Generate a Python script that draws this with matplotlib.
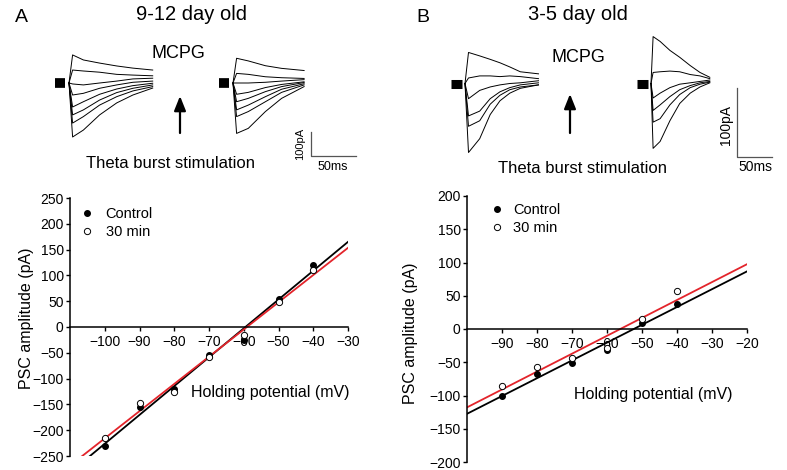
import numpy as np
import matplotlib.pyplot as plt

plt.rcParams['font.family'] = ['Liberation Sans', 'DejaVu Sans']

# I-V data, PSC amplitude (pA) vs holding potential (mV)
a_mv = [-100, -90, -80, -70, -60, -50, -40]
a_control = [-230, -155, -120, -55, -25, 55, 120]
a_30min = [-215, -148, -125, -58, -15, 48, 110]

b_mv = [-90, -80, -70, -60, -50, -40]
b_control = [-100, -67, -51, -32, 9, 38]
b_30min = [-85, -57, -44, -28, 15, 57]

a_xticks = [-100, -90, -80, -70, -60, -50, -40, -30]
a_yticks = [-250, -200, -150, -100, -50, 0, 50, 100, 150, 200, 250]
b_xticks = [-90, -80, -70, -60, -50, -40, -30, -20]
b_yticks = [-200, -150, -100, -50, 0, 50, 100, 150, 200]

# example current traces (time ms, current pA)
a1_t = [0, 4, 16, 34, 53, 71, 93]
a1_traces = [
    [0, 117, 96, 83, 71, 62, 54],
    [0, 54, 50, 45, 36, 33, 30],
    [0, -4, -8, 0, 8, 17, 20],
    [0, -50, -43, -22, -8, 3, 8],
    [0, -100, -78, -47, -25, -11, -1],
    [0, -133, -112, -71, -40, -22, -8],
    [0, -167, -140, -92, -57, -33, -15],
    [0, -225, -196, -133, -83, -50, -21],
]
a2_t = [0, 4, 17, 36, 54, 79]
a2_traces = [
    [0, 103, 92, 72, 61, 52],
    [0, 40, 36, 26, 22, 19],
    [0, 0, 0, 3, 8, 14],
    [0, -47, -39, -19, -6, 5],
    [0, -78, -64, -36, -15, 2],
    [0, -112, -92, -57, -26, -3],
    [0, -140, -119, -78, -39, -8],
    [0, -210, -189, -119, -64, -15],
]
b1_t = [0, 5, 21, 36, 50, 64, 79, 105]
b1_traces = [
    [0, 45, 40, 35, 30, 24, 17, 14],
    [0, 8, 11, 11, 10, 11, 10, 7],
    [0, -22, -10, -5, -2, 0, 1, 4],
    [0, -47, -40, -22, -12, -6, -2, 1],
    [0, -62, -54, -30, -17, -9, -5, -2],
    [0, -100, -80, -45, -25, -14, -7, -2],
]
b2_t = [0, 3, 13, 27, 41, 56, 70, 84]
b2_traces = [
    [0, 68, 61, 48, 38, 26, 16, 9],
    [0, 16, 17, 18, 17, 13, 11, 7],
    [0, -21, -14, -6, -1, 1, 3, 5],
    [0, -39, -31, -19, -9, -3, 1, 3],
    [0, -56, -51, -31, -16, -6, -1, 2],
    [0, -94, -84, -54, -29, -14, -5, 1],
]

W, H = 787, 470
fig = plt.figure(figsize=(W / 100, H / 100), dpi=100)
RED = '#e3242b'
GREY = '#555555'


def box(left, top, right, bottom):
    return fig.add_axes([left / W, 1 - bottom / H, (right - left) / W, (bottom - top) / H])


def ftext(x, y, s, **kw):
    kw.setdefault('ha', 'center')
    kw.setdefault('va', 'center')
    fig.text(x / W, 1 - y / H, s, **kw)


def trace_axes(left, top, right, bottom, x0, base, ppms, pppa):
    ax = box(left, top, right, bottom)
    ax.set_xlim((left - x0) / ppms, (right - x0) / ppms)
    ax.set_ylim(-(bottom - base) / pppa, (base - top) / pppa)
    ax.axis('off')
    return ax


def draw_group(ax, t, traces, offset, block, block_lw):
    tt = np.array(t) + offset
    for tr in traces:
        ax.plot(tt, tr, color='black', lw=0.7)
    ax.plot(np.array(block) + offset, [0, 0], color='black', lw=block_lw,
            solid_capstyle='butt')


def arrow(x, y_tip, y_tail):
    fig.add_artist(plt.Annotation('', xy=(x / W, 1 - y_tip / H), xytext=(x / W, 1 - y_tail / H),
                                  xycoords='figure fraction',
                                  arrowprops=dict(arrowstyle='-|>,head_length=0.55,head_width=0.22',
                                                  lw=1.6, color='black', mutation_scale=16,
                                                  shrinkA=0, shrinkB=0)))


def scalebar(ax, x0, y0):
    ax.plot([x0, x0, x0 + 50], [y0 + 100, y0, y0], color=GREY, lw=0.9)


# ---- panel A traces ----
ta = trace_axes(40, 40, 380, 175, x0=69, base=83, ppms=0.9, pppa=0.24)
draw_group(ta, a1_t, a1_traces, 0, [-16, -5], 7)
draw_group(ta, a2_t, a2_traces, (233 - 69) / 0.9, [-16, -5], 7)
scalebar(ta, (311 - 69) / 0.9, (83 - 156) / 0.24)

# ---- panel B traces ----
tb = trace_axes(420, 25, 787, 180, x0=465, base=83.5, ppms=0.7, pppa=0.69)
draw_group(tb, b1_t, b1_traces, 0, [-20, -4], 6.5)
draw_group(tb, b2_t, b2_traces, (651 - 465) / 0.7, [-20, -4], 6.5)
scalebar(tb, (737 - 465) / 0.7, (83.5 - 157) / 0.69)

# titles / labels on top
ftext(15, 17, 'A', ha='left', fontsize=14)
ftext(191, 14, '9-12 day old', fontsize=14.5)
ftext(178, 53, 'MCPG', fontsize=13)
ftext(171, 164, 'Theta burst stimulation', fontsize=12)
ftext(300, 144, '100pA', fontsize=8, rotation=90)
ftext(333, 167, '50ms', fontsize=9)
arrow(180, 96, 133)

ftext(416, 17, 'B', ha='left', fontsize=14)
ftext(578, 14, '3-5 day old', fontsize=14.5)
ftext(578, 57, 'MCPG', fontsize=13)
ftext(583, 168, 'Theta burst stimulation', fontsize=12)
ftext(726, 125, '100pA', fontsize=10, rotation=90)
ftext(755, 167, '50ms', fontsize=10)
arrow(570, 94, 133)


# ---- I-V plots ----
def iv_axes(left, top, right, bottom, xlim, ylim, xticks, yticks):
    ax = box(left, top, right, bottom)
    ax.set_xlim(*xlim)
    ax.set_ylim(*ylim)
    ax.spines['top'].set_visible(False)
    ax.spines['right'].set_visible(False)
    ax.spines['bottom'].set_position(('data', 0))
    ax.spines['left'].set_linewidth(1.1)
    ax.spines['bottom'].set_linewidth(1.1)
    ax.set_xticks(xticks)
    ax.set_yticks(yticks)
    ax.tick_params(axis='both', direction='out', length=3, width=1, labelsize=10, pad=1.5)
    ax.tick_params(axis='x', pad=3)
    ax.patch.set_visible(False)
    return ax


def iv_plot(ax, mv, ctrl, after, xlim):
    xs = np.array(xlim)
    for y, col in [(ctrl, 'black'), (after, RED)]:
        k, b = np.polyfit(mv, y, 1)
        ax.plot(xs, k * xs + b, color=col, lw=1.3)
    ax.plot(mv, ctrl, 'o', color='black', ms=4, label='Control', zorder=3)
    ax.plot(mv, after, 'o', mfc='white', mec='black', mew=0.7, ms=4.5, label='30 min', zorder=3)


axa = iv_axes(70, 198, 348, 456, (-110, -30), (-250, 250), a_xticks, a_yticks)
iv_plot(axa, a_mv, a_control, a_30min, (-110, -30))
axa.legend(loc='upper left', bbox_to_anchor=(80 / W, 1 - 207 / H), bbox_transform=fig.transFigure,
           frameon=False, fontsize=10.5, handlelength=1.0, handletextpad=0.75,
           borderpad=0, labelspacing=0.3, numpoints=1, borderaxespad=0)
ftext(27, 318, 'PSC amplitude (pA)', fontsize=11.5, rotation=90)
ftext(270, 392, 'Holding potential (mV)', fontsize=11.5)

axb = iv_axes(467, 196, 747, 462, (-100, -20), (-200, 200), b_xticks, b_yticks)
iv_plot(axb, b_mv, b_control, b_30min, (-100, -20))
axb.legend(loc='upper left', bbox_to_anchor=(490 / W, 1 - 203 / H), bbox_transform=fig.transFigure,
           frameon=False, fontsize=10.5, handlelength=1.0, handletextpad=0.6,
           borderpad=0, labelspacing=0.3, numpoints=1, borderaxespad=0)
ftext(410, 333, 'PSC amplitude (pA)', fontsize=11.5, rotation=90)
ftext(653, 395, 'Holding potential (mV)', fontsize=11.5)

fig.savefig('out.png', dpi=100)
